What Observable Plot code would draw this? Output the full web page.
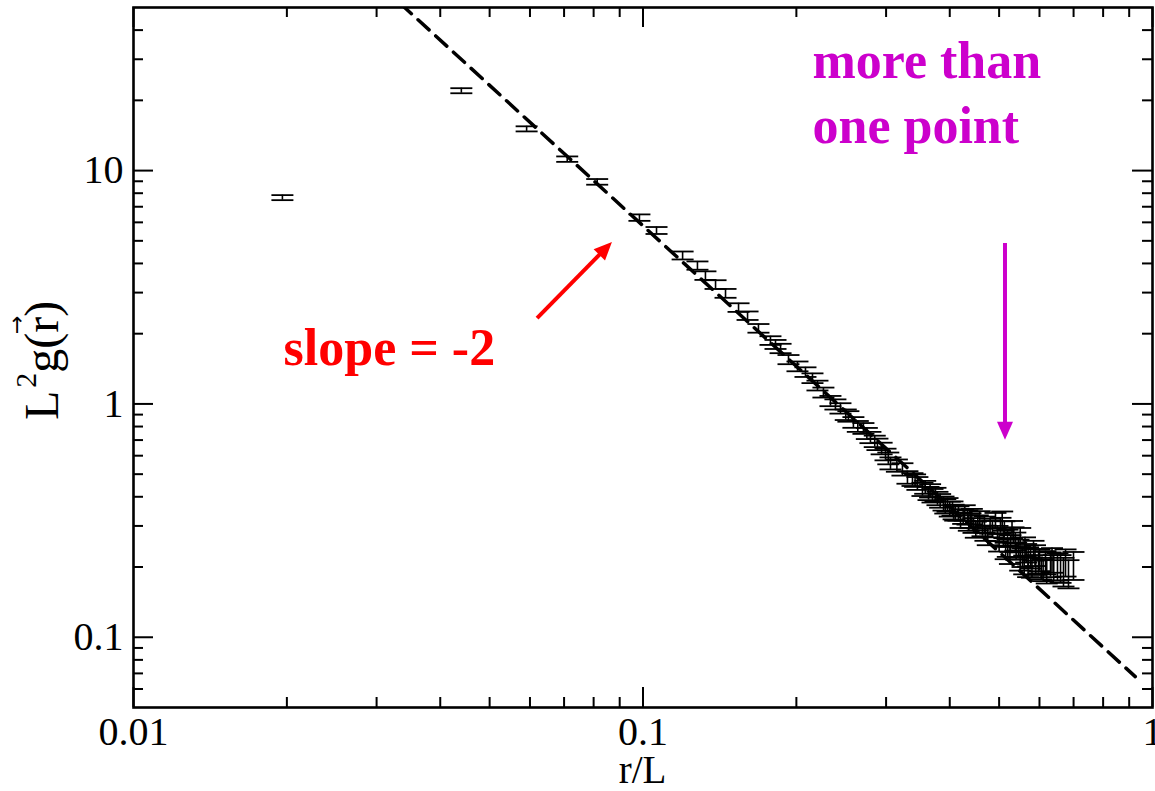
<!DOCTYPE html>
<html><head><meta charset="utf-8">
<script src="https://cdn.jsdelivr.net/npm/d3@7"></script>
<script src="https://cdn.jsdelivr.net/npm/@observablehq/plot@0.6"></script>
<style>body{margin:0;background:#fff;overflow:hidden} #chart svg{overflow:visible;display:block}</style>
</head><body><div id="chart"></div>
<script>
// r/L values
const rx = [0.0196,0.0440,0.0591,0.0710,0.0813,0.0984,0.1063,0.1196,0.1279,0.1326,0.1388,0.1452,0.1540,0.1604,0.1685,0.1779,0.1820,0.1862,0.1930,0.2010,0.2084,0.2151,0.2200,0.2260,0.2333,0.2386,0.2441,0.2500,0.2530,0.2588,0.2640,0.2708,0.2750,0.2795,0.2850,0.2885,0.2940,0.2992,0.3030,0.3060,0.3150,0.3230,0.3304,0.3380,0.3456,0.3536,0.3634,0.3700,0.3784,0.3889,0.3960,0.4050,0.4100,0.4161,0.4250,0.4334,0.4393,0.4453,0.4540,0.4638,0.4700,0.4800,0.4918,0.4963,0.5031,0.5100,0.5150,0.5193,0.5250,0.5264,0.5336,0.5400,0.5458,0.5500,0.5557,0.5600,0.5650,0.5700,0.5763,0.5841,0.5900,0.5975,0.6050,0.6100,0.6166,0.6307,0.6400,0.6509,0.6688,0.6841,0.6997,
  0.3420,0.3580,0.3660,0.3750,0.3830,0.3920,0.4000,0.4070,0.4200,0.4280,0.4360,0.4420,0.4500,0.4580,0.4680,0.4750,0.4850,0.5000,0.5070,0.5120,0.5200,0.5300,0.5380,0.5500,0.5620,0.5700,0.5800,0.5880,0.6000,0.6200,0.6350,0.6600,0.6750];
// L^2 g(r)
const gy = [7.66,22.0,15.1,11.2,8.95,6.29,5.54,4.33,3.92,3.55,3.25,2.98,2.59,2.39,2.11,1.87,1.80,1.73,1.55,1.45,1.37,1.29,1.20,1.12,1.03,0.996,0.958,0.90,0.885,0.834,0.802,0.786,0.748,0.719,0.692,0.672,0.645,0.608,0.585,0.557,0.545,0.525,0.485,0.475,0.457,0.431,0.414,0.405,0.394,0.375,0.370,0.357,0.340,0.340,0.330,0.327,0.317,0.302,0.310,0.293,0.280,0.300,0.317,0.279,0.302,0.265,0.235,0.268,0.225,0.253,0.274,0.235,0.241,0.212,0.220,0.205,0.230,0.200,0.218,0.236,0.205,0.210,0.198,0.195,0.210,0.206,0.200,0.202,0.192,0.188,0.204,
  0.470,0.440,0.425,0.410,0.385,0.365,0.355,0.345,0.318,0.342,0.310,0.330,0.290,0.322,0.305,0.270,0.292,0.255,0.320,0.290,0.242,0.290,0.258,0.270,0.245,0.222,0.200,0.225,0.215,0.192,0.215,0.198,0.210];
// error half-widths
const gerr = [0.19,0.55,0.38,0.30,0.25,0.20,0.19,0.17,0.16,0.15,0.14,0.13,0.11,0.10,0.09,0.08,0.08,0.08,0.07,0.07,0.065,0.062,0.058,0.055,0.052,0.050,0.049,0.047,0.046,0.044,0.043,0.042,0.041,0.040,0.039,0.038,0.037,0.035,0.034,0.033,0.033,0.032,0.030,0.030,0.029,0.028,0.027,0.027,0.026,0.026,0.025,0.025,0.024,0.024,0.024,0.023,0.023,0.022,0.023,0.022,0.021,0.022,0.024,0.021,0.023,0.021,0.019,0.021,0.019,0.021,0.022,0.020,0.021,0.019,0.020,0.019,0.021,0.019,0.021,0.023,0.020,0.022,0.021,0.021,0.024,0.025,0.025,0.027,0.027,0.026,0.028,
  0.029,0.028,0.028,0.027,0.026,0.026,0.026,0.025,0.024,0.026,0.024,0.025,0.023,0.025,0.024,0.022,0.024,0.022,0.026,0.024,0.021,0.025,0.023,0.024,0.023,0.021,0.020,0.023,0.023,0.022,0.026,0.027,0.028];

const xMajor = [0.01, 0.1, 1];
const xMinor = [0.02,0.03,0.04,0.05,0.06,0.07,0.08,0.09,0.2,0.3,0.4,0.5,0.6,0.7,0.8,0.9];
const yMajor = [0.1, 1, 10];
const yMinor = [0.06,0.07,0.08,0.09,0.2,0.3,0.4,0.5,0.6,0.7,0.8,0.9,2,3,4,5,6,7,8,9,20,30,40];
const xTickLabels = ["0.01", "0.1", "1"];
const yTickLabels = ["0.1", "1", "10"];

// fitted power law L^2 g = A (r/L)^slope
const fitA = 0.058, fitSlope = -2;
const fitX = [0.0334, 0.925];

const annotations = [
  {x: 0.0197, y: 2.32, text: "slope = -2", color: "#ff0000"},
  {x: 0.2151, y: 39.4, text: "more than\none point", color: "#cc00cc"}
];
const arrows = [
  {x1: 0.0621, y1: 2.32, x2: 0.0871, y2: 4.92, color: "#ff0000"},
  {x1: 0.5146, y1: 4.87, x2: 0.5146, y2: 0.698, color: "#cc00cc"}
];

const pts = rx.map((x, i) => ({x, y: gy[i], lo: gy[i] - gerr[i], hi: gy[i] + gerr[i]}));
const fit = fitX.map(x => ({x, y: fitA * Math.pow(x, fitSlope)}));

const W = 1155, H = 791, mL = 133, mR = 3, mT = 7, mB = 84;
const fw = W - mL - mR, fh = H - mT - mB;
const FONT = "Liberation Serif, Times New Roman, serif";
const cap = {draw(ctx) { ctx.moveTo(-11, 0); ctx.lineTo(11, 0); }};

const plot = Plot.plot({
  width: W, height: H,
  marginLeft: mL, marginRight: mR, marginTop: mT, marginBottom: mB,
  style: {fontFamily: FONT, background: "white", color: "black"},
  x: {type: "log", domain: [0.01, 1], axis: null},
  y: {type: "log", domain: [0.05, 50], axis: null},
  marks: [
    // ticks, inward, all four sides
    Plot.tickX(xMajor, {x: d => d, insetTop: fh - 20, stroke: "black", strokeWidth: 2}),
    Plot.tickX(xMinor, {x: d => d, insetTop: fh - 10, stroke: "black", strokeWidth: 2}),
    Plot.tickX(xMajor, {x: d => d, insetBottom: fh - 20, stroke: "black", strokeWidth: 2}),
    Plot.tickX(xMinor, {x: d => d, insetBottom: fh - 10, stroke: "black", strokeWidth: 2}),
    Plot.tickY(yMajor, {y: d => d, insetRight: fw - 20, stroke: "black", strokeWidth: 2}),
    Plot.tickY(yMinor, {y: d => d, insetRight: fw - 10, stroke: "black", strokeWidth: 2}),
    Plot.tickY(yMajor, {y: d => d, insetLeft: fw - 20, stroke: "black", strokeWidth: 2}),
    Plot.tickY(yMinor, {y: d => d, insetLeft: fw - 10, stroke: "black", strokeWidth: 2}),
    // tick labels
    Plot.text(xMajor, {x: d => d, text: (d, i) => xTickLabels[i], frameAnchor: "bottom", lineAnchor: "top", dy: 9, fontSize: 40, fill: "black"}),
    Plot.text(yMajor, {y: d => d, text: (d, i) => yTickLabels[i], frameAnchor: "left", textAnchor: "end", dx: -10, fontSize: 40, fill: "black"}),
    // fit line
    Plot.line(fit, {x: "x", y: "y", stroke: "black", strokeWidth: 3.5, strokeDasharray: "15,9", clip: true}),
    // error bars
    Plot.ruleX(pts, {x: "x", y1: "lo", y2: "hi", stroke: "black", strokeWidth: 1.6}),
    Plot.dot(pts, {x: "x", y: "lo", symbol: cap, r: 5, fill: "none", stroke: "black", strokeWidth: 1.8}),
    Plot.dot(pts, {x: "x", y: "hi", symbol: cap, r: 5, fill: "none", stroke: "black", strokeWidth: 1.8}),
    // annotations
    Plot.text(annotations, {x: "x", y: "y", text: "text", fill: "color", textAnchor: "start", lineAnchor: "top", fontSize: 52, fontWeight: "bold", lineHeight: 1.25}),
    Plot.frame({stroke: "black", strokeWidth: 2.6})
  ]
});
document.getElementById("chart").appendChild(plot);

const svg = d3.select(plot);
const sx = plot.scale("x"), sy = plot.scale("y");
for (const a of arrows) {
  const x1 = sx.apply(a.x1), y1 = sy.apply(a.y1), x2 = sx.apply(a.x2), y2 = sy.apply(a.y2);
  const dx = x2 - x1, dy = y2 - y1, L = Math.hypot(dx, dy), ux = dx / L, uy = dy / L;
  const hl = 18, hw = 8;
  const bx = x2 - ux * hl, by = y2 - uy * hl;
  svg.append("line").attr("x1", x1).attr("y1", y1).attr("x2", bx + ux * 2).attr("y2", by + uy * 2)
    .attr("stroke", a.color).attr("stroke-width", 4);
  svg.append("path").attr("d", `M${x2},${y2}L${bx - uy * hw},${by + ux * hw}L${bx + uy * hw},${by - ux * hw}Z`)
    .attr("fill", a.color);
}

// axis titles
svg.append("text").attr("x", mL + fw / 2).attr("y", 783).attr("text-anchor", "middle")
  .attr("font-family", FONT).attr("font-size", 39).attr("fill", "black").text("r/L");

const g = svg.append("g").attr("transform", "translate(58,420) rotate(-90)");
const t = g.append("text").attr("text-anchor", "start").attr("font-family", FONT).attr("font-size", 48).attr("fill", "black");
t.append("tspan").text("L");
t.append("tspan").attr("font-size", 30).attr("dy", -22).attr("dx", 3).text("2");
t.append("tspan").attr("dy", 22).text("g(");
t.append("tspan").text("r");
t.append("tspan").text(")");
try {
  const node = t.node();
  const p0 = node.getStartPositionOfChar(4), p1 = node.getEndPositionOfChar(4);
  g.append("text").attr("x", (p0.x + p1.x) / 2).attr("y", -34).attr("text-anchor", "middle")
    .attr("font-family", "DejaVu Sans").attr("font-size", 22).attr("fill", "black").text("\u2192");
} catch (e) {}
</script>
</body></html>
